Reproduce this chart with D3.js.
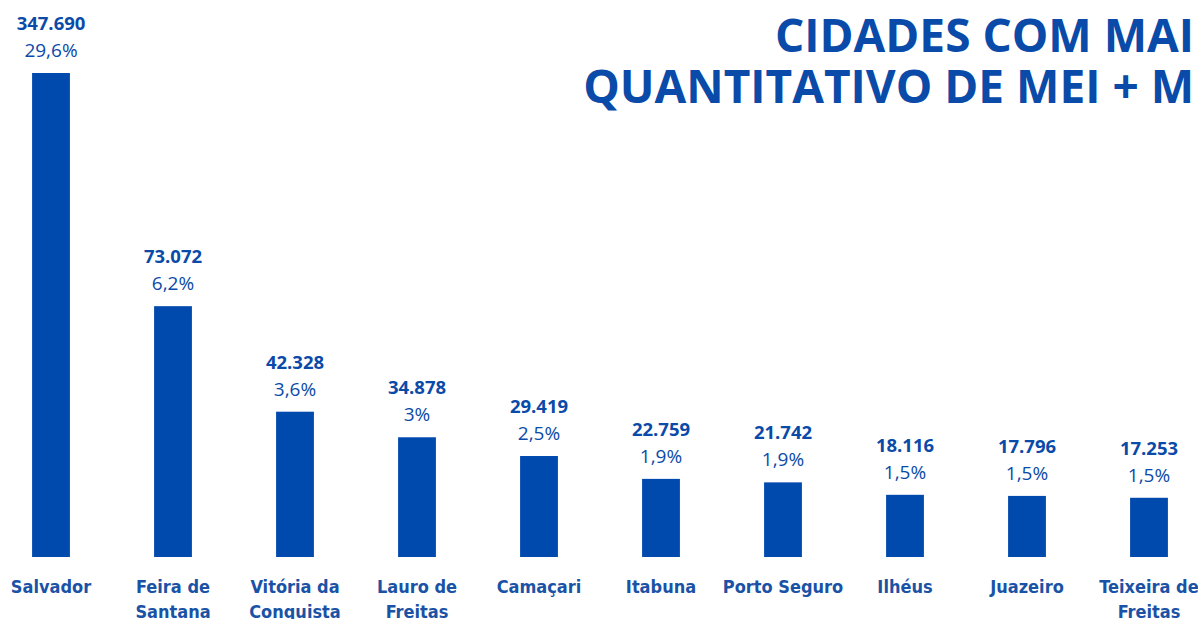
<!DOCTYPE html>
<html>
<head>
<meta charset="utf-8">
<script src="https://cdn.jsdelivr.net/npm/d3@7"></script>
<style>
  html, body { margin: 0; padding: 0; background: #fff; overflow: hidden; }
</style>
</head>
<body>
<svg id="drawing_region"></svg>
<script>
const cities = ["Salvador", "Feira de\nSantana", "Vitória da\nConquista", "Lauro de\nFreitas", "Camaçari",
                "Itabuna", "Porto Seguro", "Ilhéus", "Juazeiro", "Teixeira de\nFreitas"];
const totals = [347690, 73072, 42328, 34878, 29419, 22759, 21742, 18116, 17796, 17253];
const shares = ["29,6%", "6,2%", "3,6%", "3%", "2,5%", "1,9%", "1,9%", "1,5%", "1,5%", "1,5%"];
const titleLines = ["CIDADES COM MAI", "QUANTITATIVO DE MEI + M"];

const config = {
    width: 1198,
    height: 619,
    barColor: '#004aad',
    textColor: '#0a4aa8'
};

const svg = d3.select('#drawing_region')
    .attr('width', config.width)
    .attr('height', config.height);

const data = cities.map((c, i) => ({ city: c, total: totals[i], share: shares[i] }));

// band scale spanning a bit beyond the page so the first/last bars sit near the edges
const xscale = d3.scaleBand()
    .domain(cities)
    .range([-10, 1210])
    .paddingInner(0.69)
    .paddingOuter(0.345);

// Salvador's bar is cut off at the top in the original, hence the clamp
const yscale = d3.scaleLinear()
    .domain([0, 141000])
    .range([557, 73])
    .clamp(true);

const fmt = d3.formatLocale({ decimal: ",", thousands: ".", grouping: [3], currency: ["R$", ""] }).format(",d");

svg.selectAll('rect.bar')
    .data(data)
    .join('rect')
    .attr('class', 'bar')
    .attr('x', d => xscale(d.city))
    .attr('width', xscale.bandwidth())
    .attr('y', d => yscale(d.total))
    .attr('height', d => yscale(0) - yscale(d.total))
    .attr('fill', config.barColor);

const labels = svg.selectAll('g.lbl')
    .data(data)
    .join('g')
    .attr('class', 'lbl')
    .attr('transform', d => `translate(${xscale(d.city) + xscale.bandwidth() / 2}, ${yscale(d.total)})`);

labels.append('text')
    .attr('y', -43)
    .attr('text-anchor', 'middle')
    .attr('font-family', '"Open Sans", sans-serif')
    .attr('font-weight', 700)
    .attr('font-size', '18.5px')
    .attr('fill', config.textColor)
    .text(d => fmt(d.total));

labels.append('text')
    .attr('y', -16)
    .attr('text-anchor', 'middle')
    .attr('font-family', '"Open Sans", sans-serif')
    .attr('font-size', '19px')
    .attr('fill', config.textColor)
    .text(d => d.share);

// city names under the bars
const names = svg.selectAll('text.name')
    .data(data)
    .join('text')
    .attr('class', 'name')
    .attr('x', d => xscale(d.city) + xscale.bandwidth() / 2)
    .attr('y', 593)
    .attr('text-anchor', 'middle')
    .attr('font-family', '"DejaVu Sans Condensed", "DejaVu Sans", sans-serif')
    .attr('font-stretch', 'condensed')
    .attr('font-weight', 700)
    .attr('font-size', '18px')
    .attr('fill', '#1a52a6');

names.selectAll('tspan')
    .data(d => d.city.split('\n'))
    .join('tspan')
    .attr('x', function() { return d3.select(this.parentNode).attr('x'); })
    .attr('dy', (d, i) => i === 0 ? 0 : 25)
    .text(d => d);

svg.selectAll('text.title')
    .data(titleLines)
    .join('text')
    .attr('class', 'title')
    .attr('x', 1194)
    .attr('y', (d, i) => 52 + i * 51)
    .attr('text-anchor', 'end')
    .attr('font-family', '"Open Sans", sans-serif')
    .attr('font-weight', 700)
    .attr('font-size', '46px')
    .attr('fill', config.textColor)
    .text(d => d);
</script>
</body>
</html>
